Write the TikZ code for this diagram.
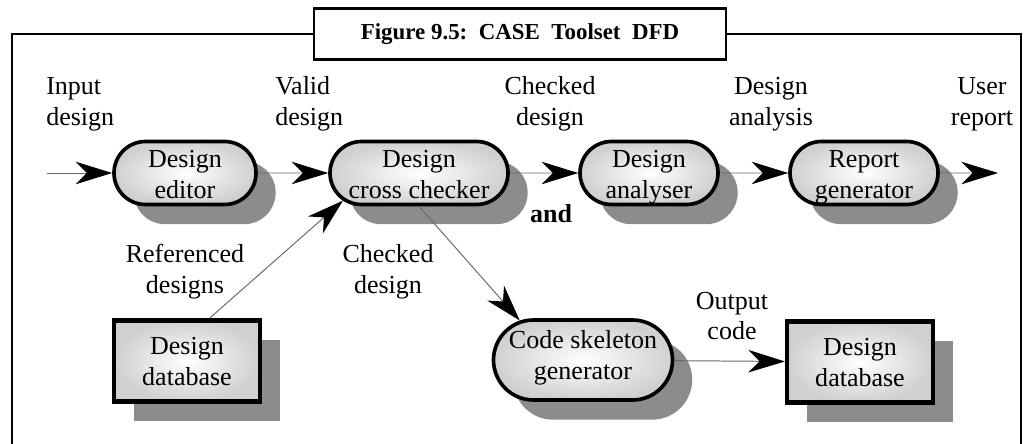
\documentclass[tikz,border=0pt]{standalone}
\usepackage{fontspec}
\setmainfont{Liberation Serif}
\usetikzlibrary{positioning,arrows.meta,shapes.misc,shadows}
\definecolor{shadowgray}{RGB}{140,140,140}
\definecolor{linegray}{RGB}{105,105,105}
\definecolor{fillgray}{RGB}{208,208,208}

\begin{document}
\begin{tikzpicture}[
  x=0.25mm,y=-0.25mm,
  font=\fontsize{18.5}{22}\selectfont,
  procbox/.style={rounded rectangle,draw=black,line width=2.6pt,inner color=white,outer color=fillgray,align=center,inner sep=0pt,minimum height=1.575cm,text height=36.5pt,text depth=0pt,general shadow={fill=shadowgray,shadow xshift=14pt,shadow yshift=-14pt}},
  storebox/.style={rectangle,draw=black,line width=3pt,inner color=white,outer color=fillgray,align=center,inner sep=0pt,minimum width=3.65cm,minimum height=2.03cm,text height=34.6pt,text depth=0pt,general shadow={fill=shadowgray,shadow xshift=14pt,shadow yshift=-14pt}},
  flowlabel/.style={align=center,inner sep=0pt},
  flow/.style={draw=linegray,line width=0.7pt,-{Stealth[length=26pt,width=16pt,inset=8pt,black]}},
  framebox/.style={draw=black,line width=1.6pt,fill=white,minimum width=10.3cm,minimum height=1.28cm,font=\fontsize{16.3}{19}\bfseries\selectfont}
]
\useasboundingbox (0,0) rectangle (1031,443);

% frame and caption
\node[framebox] (title) at (520,34) {Figure 9.5:\ \ CASE\ \ Toolset\ \ DFD};
\coordinate (fbl) at (12,445);
\coordinate (fbr) at (1021,445);
\draw[line width=1.6pt] (fbl) |- (title.west);
\draw[line width=1.6pt] (title.east) -| (fbr);

% TOP: processes in a row
\node[procbox,minimum width=3.55cm] (editor) at (185,173) {Design\\editor};
\node[procbox,minimum width=4.45cm] (cross) at (419,173) {Design\\cross checker};
\node[procbox,minimum width=3.45cm] (analyser) at (649,173) {Design\\analyser};
\node[procbox,minimum width=3.7cm] (report) at (864,173) {Report\\generator};
\coordinate (in) at (47,173);
\coordinate (out) at (998,173);

\draw[flow] (in) -- (editor);
\draw[flow] (editor) -- (cross);
\draw[flow] (cross) -- (analyser);
\draw[flow] (analyser) -- (report);
\draw[flow] (report) -- (out);

\node[flowlabel,align=left,anchor=west] (lin) at (46,104) {Input\\design};
\node[flowlabel,align=left,anchor=west] (lvalid) at (275,104) {Valid\\design};
\node[flowlabel] (lchk) at (550,104) {Checked\\design};
\node[flowlabel] (lana) at (771,104) {Design\\analysis};
\node[flowlabel] (luser) at (982,104) {User\\report};
\node[flowlabel,font=\fontsize{18.5}{22}\bfseries\selectfont] (land) at (551,214) {and};

% BOTTOM: stores and code generator
\node[storebox] (db1) at (187,361) {Design\\database};
\node[procbox,minimum width=4.475cm,minimum height=2.0cm,text height=34.6pt,text depth=6.4pt] (code) at (583,360) {Code skeleton\\generator};
\node[storebox] (db2) at (860,362) {Design\\database};

\draw[flow] ([xshift=16pt]db1.north) -- (cross.200);
\draw[flow] (cross.south) -- (code.148);
\draw[flow] (code) -- (db2);

\node[flowlabel] (lref) at (185,272) {Referenced\\designs};
\node[flowlabel] (lchk2) at (388,272) {Checked\\design};
\node[flowlabel] (lcode) at (732,316) {Output\\code};
\end{tikzpicture}
\end{document}
